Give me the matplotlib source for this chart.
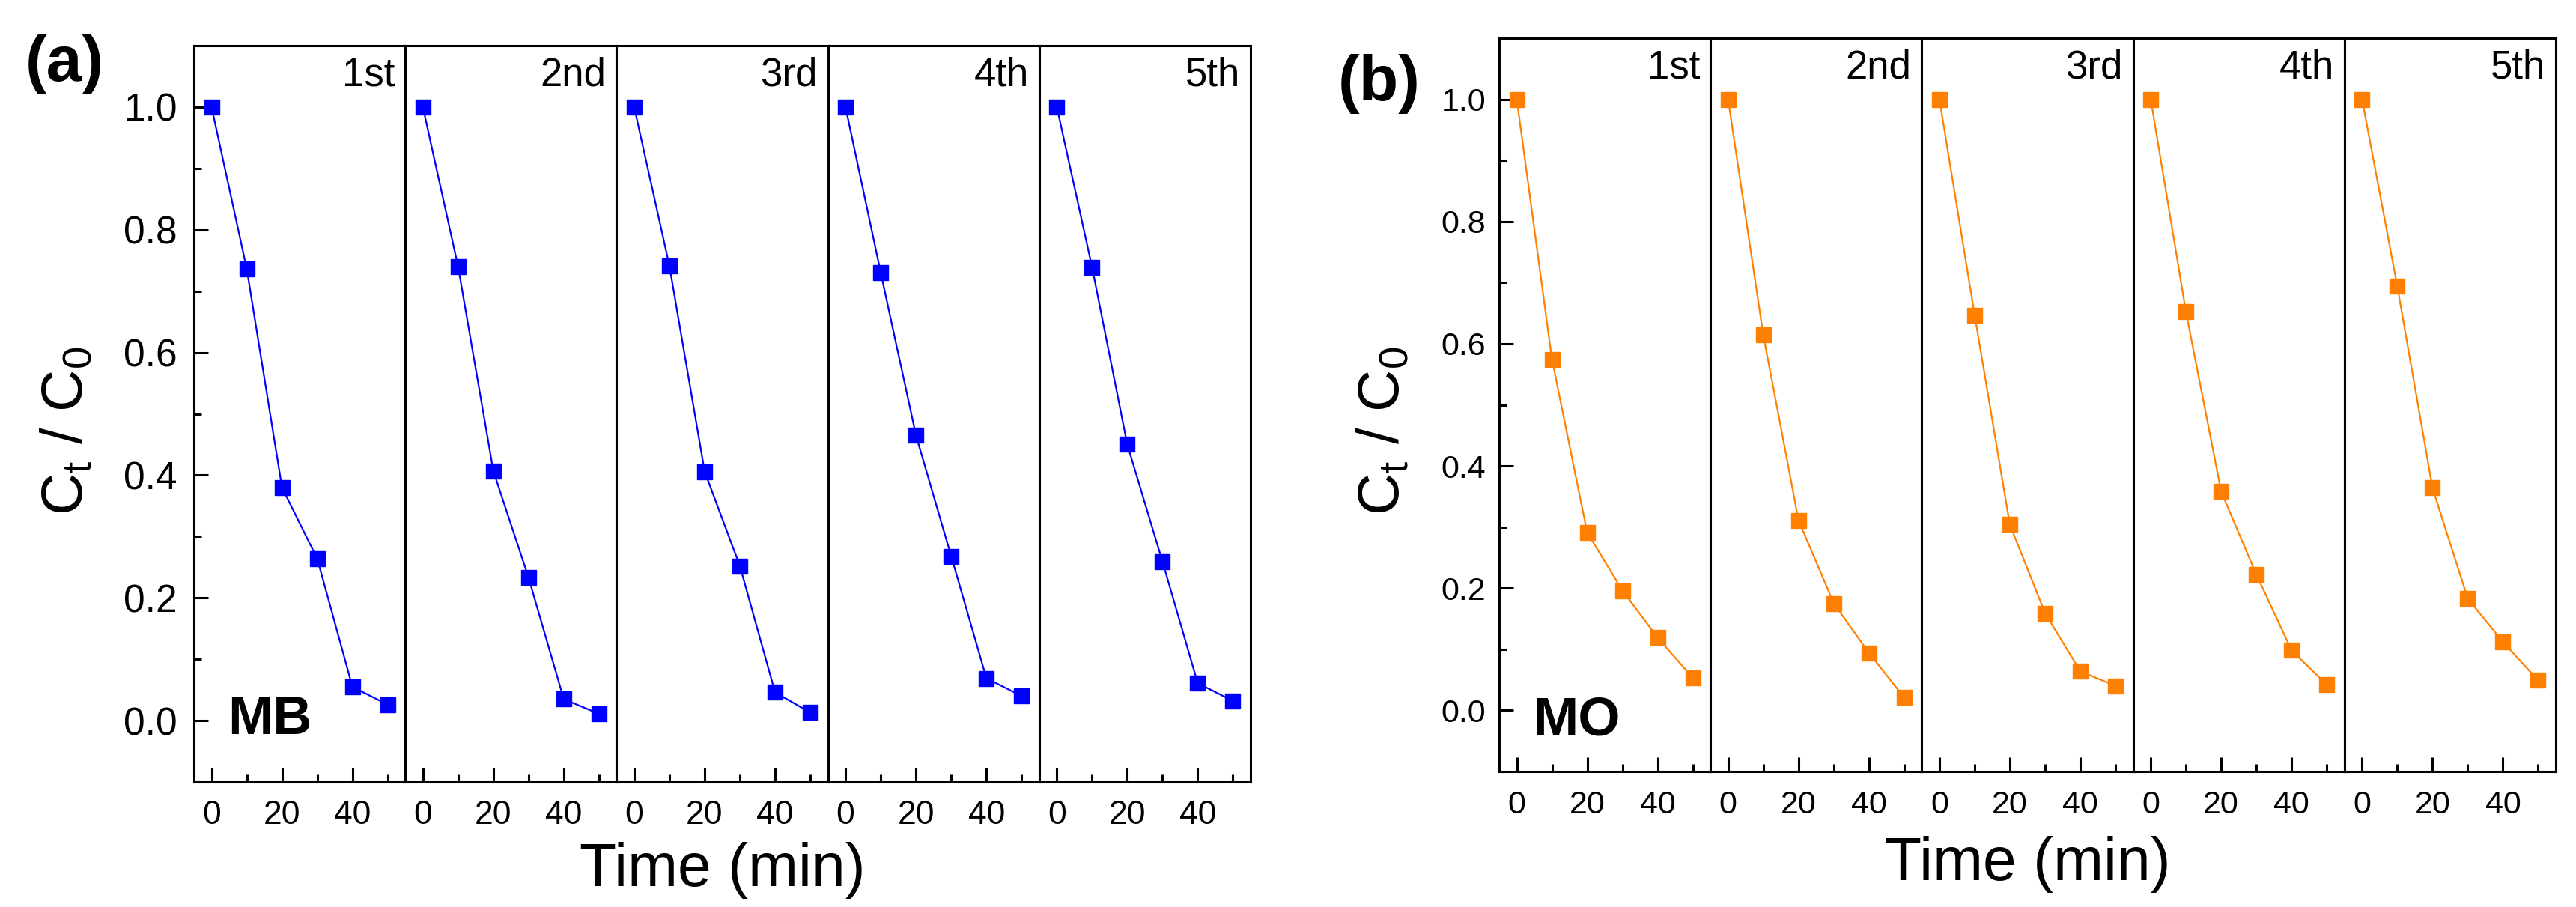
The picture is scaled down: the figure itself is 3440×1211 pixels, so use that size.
import numpy as np
import matplotlib
matplotlib.use('Agg')
import matplotlib.pyplot as plt
from matplotlib.ticker import MultipleLocator

plt.rcParams['font.family'] = ['Liberation Sans', 'DejaVu Sans']
plt.rcParams['mathtext.fontset'] = 'custom'
plt.rcParams['mathtext.rm'] = 'Liberation Sans'

time_min = [0, 10, 20, 30, 40, 50]
run_names = ['1st', '2nd', '3rd', '4th', '5th']

# Ct/C0 for methylene blue, one list per cycle
mb_1 = [1.0, 0.736, 0.380, 0.264, 0.055, 0.026]
mb_2 = [1.0, 0.740, 0.407, 0.233, 0.035, 0.011]
mb_3 = [1.0, 0.741, 0.406, 0.252, 0.046, 0.013]
mb_4 = [1.0, 0.730, 0.465, 0.268, 0.069, 0.040]
mb_5 = [1.0, 0.739, 0.450, 0.259, 0.061, 0.032]

# Ct/C0 for methyl orange
mo_1 = [1.0, 0.574, 0.291, 0.196, 0.119, 0.053]
mo_2 = [1.0, 0.614, 0.311, 0.175, 0.094, 0.021]
mo_3 = [1.0, 0.647, 0.304, 0.159, 0.064, 0.040]
mo_4 = [1.0, 0.652, 0.358, 0.222, 0.098, 0.042]
mo_5 = [1.0, 0.694, 0.364, 0.183, 0.112, 0.049]

W, H = 3440, 1211
fig = plt.figure(figsize=(W / 100, H / 100), dpi=100)


def draw_panel(box, runs, color, name, name_y, tag, tag_xy, ylab_x, xlab_y,
               yfs, xfs, ypad, xpad):
    left, right, top, bottom = box
    w = (right - left) / 5
    axes = []
    for i, vals in enumerate(runs):
        ax = fig.add_axes([(left + i * w) / W, 1 - bottom / H, w / W, (bottom - top) / H])
        ax.plot(time_min, vals, '-s', color=color, lw=1.6, ms=15, mec=color)
        ax.set_xlim(-5, 55)
        ax.set_ylim(-0.1, 1.1)
        ax.xaxis.set_major_locator(MultipleLocator(20))
        ax.xaxis.set_minor_locator(MultipleLocator(10))
        ax.yaxis.set_major_locator(MultipleLocator(0.2))
        ax.yaxis.set_minor_locator(MultipleLocator(0.1))
        ax.tick_params(which='both', direction='in', width=2.2, top=False, right=False)
        ax.tick_params(which='major', length=14)
        ax.tick_params(which='minor', length=7.5)
        ax.tick_params(axis='x', labelsize=xfs, pad=xpad)
        ax.tick_params(axis='y', labelsize=yfs, pad=ypad)
        if i > 0:
            ax.tick_params(axis='y', which='both', left=False, labelleft=False)
        else:
            ax.yaxis.set_major_formatter(plt.FormatStrFormatter('%.1f'))
        for sp in ax.spines.values():
            sp.set_linewidth(2.2)
        ax.text(0.95, 0.985, run_names[i], transform=ax.transAxes, ha='right', va='top',
                fontsize=38)
        axes.append(ax)
    axes[0].text(4.6, name_y, name, ha='left', va='baseline', fontsize=52, fontweight='bold')
    fig.text(tag_xy[0] / W, 1 - tag_xy[1] / H, tag, ha='left', va='top', fontsize=62,
             fontweight='bold')
    fig.text(ylab_x / W, 1 - 575 / H, r'C$_\mathregular{t}$ / C$_\mathregular{0}$',
             rotation=90, ha='center', va='center', fontsize=56)
    fig.text((left + right) / 2 / W, 1 - xlab_y / H, 'Time (min)', ha='center', va='top',
             fontsize=58)


draw_panel((259, 1670, 61, 1044), [mb_1, mb_2, mb_3, mb_4, mb_5], '#0000FF', 'MB', -0.022,
           '(a)', (34, 46), 89, 1124, 37, 32, 16, 17)
draw_panel((2002, 3413, 51, 1030), [mo_1, mo_2, mo_3, mo_4, mo_5], '#FF8000', 'MO', -0.04,
           '(b)', (1787, 72), 1848, 1116, 31, 31, 13, 18)

fig.savefig('out.png', dpi=100)
